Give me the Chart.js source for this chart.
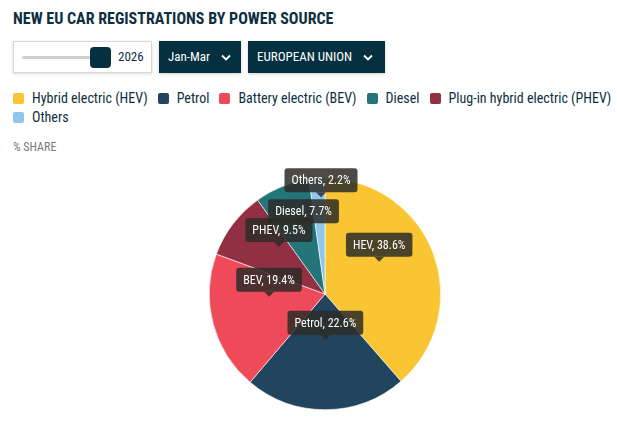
<!DOCTYPE html>
<html>
<head>
<meta charset="utf-8">
<script src="https://cdn.jsdelivr.net/npm/chart.js@4.4.1/dist/chart.umd.min.js"></script>
<style>
  html, body { margin: 0; padding: 0; background: #fff; }
  body { width: 617px; height: 426px; position: relative; overflow: hidden; font-family: "Roboto Condensed", Roboto, sans-serif; color: #0d2f40; }
  h1 { position: absolute; left: 13px; top: 8px; margin: 0; font-size: 16px; font-weight: 700; line-height: 22px; color: #0d2f40; }
  .slider { position: absolute; left: 13px; top: 41px; width: 137px; height: 30px; border: 1px solid #d8d8d8; box-shadow: 0 1px 3px rgba(0,0,0,0.15); background: #fff; }
  .track { position: absolute; left: 8px; top: 14px; width: 78px; height: 3px; background: #cfcfcf; border-radius: 2px; }
  .thumb { position: absolute; left: 76px; top: 5px; width: 21px; height: 21px; background: #06303f; border-radius: 4px; }
  .year { position: absolute; left: 104px; top: 6px; font-size: 13px; line-height: 18px; color: #0d2f40; }
  .btn { position: absolute; top: 41px; height: 32px; background: #04303f; color: #fff; font-size: 13px; line-height: 32px; box-shadow: 0 1px 3px rgba(0,0,0,0.2); }
  .btn span { position: absolute; left: 9px; }
  .btn svg { position: absolute; top: 13px; }
  #legend { position: absolute; left: 13px; top: 89px; width: 620px; font-size: 14px; line-height: 19px; }
  .item { display: inline-block; margin-right: 10px; white-space: nowrap; }
  .sw { display: inline-block; width: 11px; height: 11px; border-radius: 2px; margin-right: 8px; vertical-align: -1px; }
  .unit { position: absolute; left: 13px; top: 140px; font-size: 12px; color: #7a7a7a; line-height: 14px; }
  #wrap { position: absolute; left: 0; top: 160px; width: 617px; height: 266px; }
</style>
</head>
<body>
<h1>NEW EU CAR REGISTRATIONS BY POWER SOURCE</h1>
<div class="slider"><div class="track"></div><div class="thumb"></div><div class="year">2026</div></div>
<div class="btn" style="left:159px;width:82px"><span>Jan-Mar</span><svg style="left:62px" width="10" height="7" viewBox="0 0 10 7"><path d="M1 1.5 L5 5.5 L9 1.5" stroke="#fff" stroke-width="1.8" fill="none"/></svg></div>
<div class="btn" style="left:248px;width:137px"><span>EUROPEAN UNION</span><svg style="left:115px" width="10" height="7" viewBox="0 0 10 7"><path d="M1 1.5 L5 5.5 L9 1.5" stroke="#fff" stroke-width="1.8" fill="none"/></svg></div>
<div id="legend"></div>
<div class="unit">% SHARE</div>
<div id="wrap"><canvas id="grafica"></canvas></div>
<script>
// datos (% del total, ene-mar 2026)
const categorias = ["Hybrid electric (HEV)", "Petrol", "Battery electric (BEV)", "Diesel", "Plug-in hybrid electric (PHEV)", "Others"];
const etiquetasCortas = ["HEV", "Petrol", "BEV", "Diesel", "PHEV", "Others"];
const porcentajes = [38.6, 22.6, 19.4, 7.7, 9.5, 2.2];
const colores = ["#f9c532", "#22455f", "#ee4a59", "#23757a", "#932f43", "#8fc6ea"];
// orden de las porciones en la tarta (sentido horario desde arriba)
const ordenTarta = [0, 1, 2, 4, 3, 5];

const legend = document.getElementById('legend');
categorias.forEach((c, i) => {
  const it = document.createElement('span');
  it.className = 'item';
  it.innerHTML = '<span class="sw" style="background:' + colores[i] + '"></span>' + c;
  legend.appendChild(it);
});

const etiquetasPlugin = {
  id: 'etiquetas',
  afterDatasetsDraw(chart) {
    const ctx = chart.ctx;
    const meta = chart.getDatasetMeta(0);
    const ds = chart.data.datasets[0];
    ctx.save();
    ctx.font = '12px "Roboto Condensed", Roboto, sans-serif';
    const cajas = [];
    meta.data.forEach((arc, i) => {
      const p = arc.tooltipPosition();
      const txt = ds.cortas[i] + ', ' + ds.data[i].toFixed(1) + '%';
      const w = ctx.measureText(txt).width + 14;
      const h = 24;
      let bottom = p.y - 17;
      const left = p.x - w / 2;
      // evitar solapes fuertes con etiquetas ya colocadas
      cajas.forEach(b => {
        const ovx = Math.min(left + w, b.x + b.w) - Math.max(left, b.x);
        const ovy = Math.min(bottom, b.y + b.h) - Math.max(bottom - h, b.y);
        if (ovx > 0 && ovy > 6) bottom = b.y - 7;
      });
      cajas.push({ x: left, y: bottom - h, w: w, h: h, txt: txt, cx: p.x });
    });
    cajas.forEach(b => {
      ctx.fillStyle = 'rgba(45,43,40,0.85)';
      ctx.beginPath();
      ctx.roundRect(b.x, b.y, b.w, b.h, 3);
      ctx.fill();
      ctx.beginPath();
      ctx.moveTo(b.cx - 5, b.y + b.h);
      ctx.lineTo(b.cx, b.y + b.h + 5);
      ctx.lineTo(b.cx + 5, b.y + b.h);
      ctx.closePath();
      ctx.fill();
      ctx.fillStyle = '#fff';
      ctx.textAlign = 'center';
      ctx.textBaseline = 'middle';
      ctx.fillText(b.txt, b.cx, b.y + b.h / 2 + 1);
    });
    ctx.restore();
  }
};

new Chart(document.getElementById('grafica'), {
  type: 'pie',
  data: {
    labels: ordenTarta.map(i => categorias[i]),
    datasets: [{
      data: ordenTarta.map(i => porcentajes[i]),
      cortas: ordenTarta.map(i => etiquetasCortas[i]),
      backgroundColor: ordenTarta.map(i => colores[i]),
      borderColor: '#ffffff',
      borderWidth: 0.6
    }]
  },
  options: {
    responsive: true,
    maintainAspectRatio: false,
    animation: false,
    layout: { padding: { left: 33, top: 18, bottom: 16 } },
    plugins: { legend: { display: false }, tooltip: { enabled: false } }
  },
  plugins: [etiquetasPlugin]
});
</script>
</body>
</html>
